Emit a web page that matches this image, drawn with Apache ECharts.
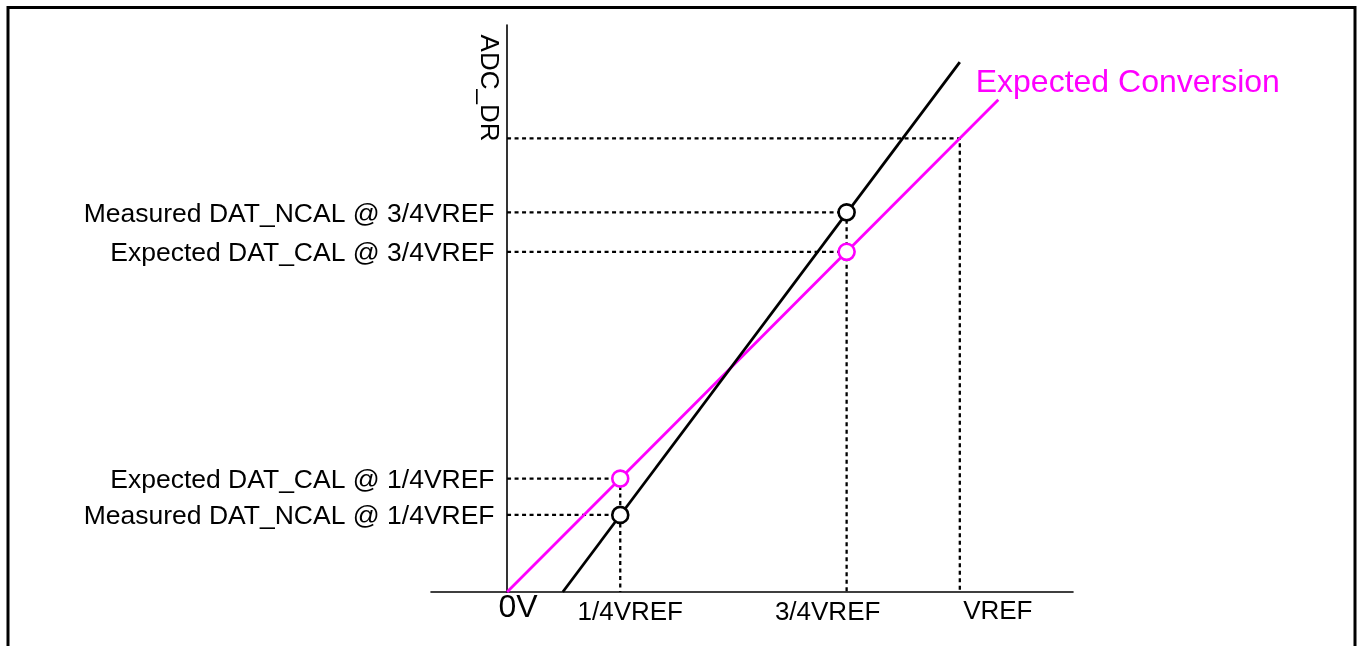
<!DOCTYPE html>
<html>
<head>
<meta charset="utf-8">
<script src="https://cdn.jsdelivr.net/npm/echarts@6/dist/echarts.min.js"></script>
<style>
  html, body { margin: 0; padding: 0; background: #fff; }
  #chart { width: 1362px; height: 646px; }
</style>
</head>
<body>
<div id="chart"></div>
<script>
const FONT = '"Liberation Sans", Arial, Helvetica, sans-serif';
const MAGENTA = '#ff00ff';

// Input voltage, as a fraction of VREF
const tickValues = [0, 0.25, 0.75, 1];
const tickLabels = ['0V', '1/4VREF', '3/4VREF', 'VREF'];

// Calibration sample points (input fraction -> output code, full scale = 1)
const sampleInputs = [0.25, 0.75];
const expectedCodes = [0.25, 0.75];
const measuredCodes = [0.17, 0.837];
const fullScaleInput = 1;
const fullScaleCode = 1;

// Transfer lines
const expectedLine = [[0, 0], [1.085, 1.085]];
const measuredLine = [[0.123, 0], [1.0, 1.168]];

// Code labels on the left of the ADC_DR axis
const codeLabelTexts = [
  'Measured DAT_NCAL @ 3/4VREF',
  'Expected DAT_CAL @ 3/4VREF',
  'Expected DAT_CAL @ 1/4VREF',
  'Measured DAT_NCAL @ 1/4VREF'
];
const codeLabelValues = [measuredCodes[1], expectedCodes[1], expectedCodes[0], measuredCodes[0]];

const axisTitle = 'ADC_DR';
const axisTitleCode = 1.111;
const curveTitle = 'Expected Conversion';
const curveTitlePos = [1.034, 1.121];

// Per-tick label nudges and sizes
const tickLabelOffsets = [[11, 16], [10, 21], [-19, 21], [38, 20]];
const tickLabelSizes = [32, 26, 26, 26];

const dashStyle = { color: '#000', width: 2.3, type: [4, 3.5] };
const hidden = { color: 'rgba(0,0,0,0)', borderWidth: 0, opacity: 1 };

function guide(points) {
  return {
    type: 'line', data: points, symbol: 'none', silent: true, z: 2,
    lineStyle: dashStyle
  };
}

const series = [];

// dashed guides: horizontal from the axis to each sample, vertical down from the higher one
sampleInputs.forEach((x, i) => {
  const e = expectedCodes[i], m = measuredCodes[i];
  series.push(guide([[0, e], [x, e]]));
  series.push(guide([[0, m], [x, m]]));
  series.push(guide([[x, Math.max(e, m)], [x, 0]]));
});
series.push(guide([[0, fullScaleCode], [fullScaleInput, fullScaleCode], [fullScaleInput, 0]]));

// transfer lines
series.push({
  type: 'line', data: expectedLine, symbol: 'none', z: 3,
  lineStyle: { color: MAGENTA, width: 2.8 }
});
series.push({
  type: 'line', data: measuredLine, symbol: 'none', z: 3,
  lineStyle: { color: '#000', width: 2.8 }
});

// sample markers
series.push({
  type: 'scatter', z: 5, symbol: 'circle', symbolSize: 16,
  itemStyle: { color: '#fff', borderColor: MAGENTA, borderWidth: 2.6, opacity: 1 },
  data: sampleInputs.map((x, i) => [x, expectedCodes[i]])
});
series.push({
  type: 'scatter', z: 5, symbol: 'circle', symbolSize: 16,
  itemStyle: { color: '#fff', borderColor: '#000', borderWidth: 2.6, opacity: 1 },
  data: sampleInputs.map((x, i) => [x, measuredCodes[i]])
});

// code labels left of the vertical axis
series.push({
  type: 'scatter', z: 6, symbolSize: 1, silent: true,
  itemStyle: hidden,
  label: {
    show: true, position: 'left', distance: 12, offset: [0, 2],
    fontFamily: FONT, fontSize: 26.5, color: '#000',
    formatter: p => codeLabelTexts[p.dataIndex]
  },
  data: codeLabelValues.map(v => [0, v])
});

// tick labels under the horizontal axis
series.push({
  type: 'scatter', z: 6, symbolSize: 1, silent: true,
  itemStyle: hidden,
  data: tickValues.map((v, i) => ({
    value: [v, 0],
    label: {
      show: true, position: 'inside',
      offset: tickLabelOffsets[i],
      fontFamily: FONT, fontSize: tickLabelSizes[i], color: '#000',
      formatter: tickLabels[i]
    }
  }))
});

// curve caption
series.push({
  type: 'scatter', z: 6, symbolSize: 1, silent: true,
  itemStyle: hidden,
  label: {
    show: true, position: 'right', distance: 0,
    fontFamily: FONT, fontSize: 32, color: MAGENTA,
    formatter: curveTitle
  },
  data: [curveTitlePos]
});

const chart = echarts.init(document.getElementById('chart'), null, { renderer: 'canvas' });
chart.setOption({
  animation: false,
  backgroundColor: '#fff',
  grid: { left: 431, right: 289, top: 25, bottom: 54, containLabel: false },
  xAxis: {
    type: 'value', min: -0.168, max: 1.25,
    axisLine: { show: true, onZero: true, lineStyle: { color: '#000', width: 1.6 } },
    axisTick: { show: false }, axisLabel: { show: false }, splitLine: { show: false }
  },
  yAxis: {
    type: 'value', min: 0, max: 1.25,
    axisLine: { show: true, onZero: true, lineStyle: { color: '#000', width: 1.6 } },
    axisTick: { show: false }, axisLabel: { show: false }, splitLine: { show: false }
  },
  series: series
});

// frame and the rotated axis title
const titlePos = chart.convertToPixel({ gridIndex: 0 }, [0, axisTitleCode]);
chart.setOption({
  graphic: [
    {
      type: 'polyline', silent: true, z: 10,
      shape: { points: [[8, 650], [8, 7.5], [1355, 7.5], [1355, 650]] },
      style: { stroke: '#000', lineWidth: 3, fill: null }
    },
    {
      type: 'text', silent: true, z: 10,
      x: titlePos[0] - 19, y: titlePos[1], rotation: -Math.PI / 2,
      style: {
        text: axisTitle, fill: '#000', font: '26px ' + FONT,
        align: 'center', verticalAlign: 'middle'
      }
    }
  ]
});
</script>
</body>
</html>
